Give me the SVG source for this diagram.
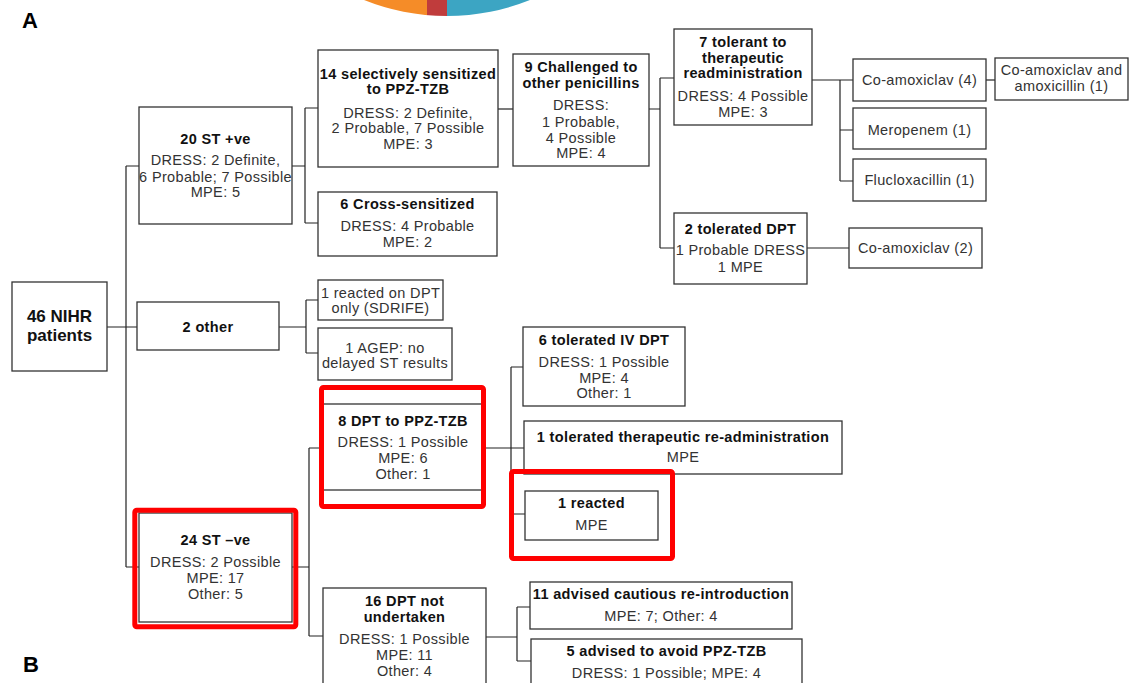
<svg xmlns="http://www.w3.org/2000/svg" width="1130" height="683" viewBox="0 0 1130 683">
<style>
.box{fill:#fff;stroke:#333;stroke-width:1.3}
.hl{fill:none;stroke:#f00;stroke-width:5}
.t{font-family:"Liberation Sans",Arial,sans-serif;font-size:14.5px;letter-spacing:0.35px;fill:#333;text-anchor:middle}
.b{font-weight:bold;fill:#111}
.lbl{font-family:"Liberation Sans",Arial,sans-serif;font-size:22px;font-weight:bold;fill:#000}
.c{fill:none;stroke:#222;stroke-width:1.2}
</style>
<defs>
<clipPath id="pie"><circle cx="447" cy="-207" r="223"/></clipPath>
</defs>
<rect width="1130" height="683" fill="#fff"/>
<g id="pie-fragment" clip-path="url(#pie)">
<rect x="300" y="-10" width="127" height="40" fill="#f58c28"/>
<rect x="427" y="-10" width="20" height="40" fill="#c03c3c"/>
<rect x="447" y="-10" width="150" height="40" fill="#3ca5c3"/>
</g>
<text class="lbl" x="22" y="28">A</text>
<text class="lbl" x="23" y="672">B</text>
<g id="connectors" class="c">
<path class="c" d="M107,327H126M126,166V567M126,166H139M126,327H137M126,567H139"/>
<path class="c" d="M292,166H305M305,108V223M305,108H318M305,223H318"/>
<path class="c" d="M498,109H513"/>
<path class="c" d="M649,109H660M660,78V248M660,78H674M660,248H674"/>
<path class="c" d="M812,80H853M840,80V181M840,130H853M840,181H853"/>
<path class="c" d="M986,80H995"/>
<path class="c" d="M807,248H849"/>
<path class="c" d="M279,327H306M306,300V353M306,300H318M306,353H318"/>
<path class="c" d="M292,567H309M309,448V636M309,448H322M309,636H323"/>
<path class="c" d="M484,448H524M511,367V514M511,367H523M511,514H525"/>
<path class="c" d="M486,637H517M517,607V661M517,607H530M517,661H531"/>
</g>
<g id="n46">
<rect class="box" x="12" y="282" width="95" height="89"/>
<text class="t b" x="59.5" y="322" style="font-size:17px;letter-spacing:0">46 NIHR</text>
<text class="t b" x="59.5" y="341" style="font-size:17px;letter-spacing:0">patients</text>
</g>
<g id="n20pos">
<rect class="box" x="139" y="107" width="153" height="117"/>
<text class="t b" x="215.5" y="144">20 ST +ve</text>
<text class="t" x="215.5" y="165">DRESS: 2 Definite,</text>
<text class="t" x="215.5" y="182">6 Probable; 7 Possible</text>
<text class="t" x="215.5" y="197">MPE: 5</text>
</g>
<g id="n2other">
<rect class="box" x="137" y="302" width="142" height="48"/>
<text class="t b" x="208" y="332">2 other</text>
</g>
<g id="n24neg">
<rect class="box" x="139" y="513" width="153" height="109"/>
<text class="t b" x="215.5" y="545">24 ST –ve</text>
<text class="t" x="215.5" y="567">DRESS: 2 Possible</text>
<text class="t" x="215.5" y="583">MPE: 17</text>
<text class="t" x="215.5" y="599">Other: 5</text>
<rect class="hl" x="134.8" y="510.2" width="161" height="116.6" rx="2"/>
</g>
<g id="n14sel">
<rect class="box" x="318" y="50" width="180" height="117"/>
<text class="t b" x="408" y="79">14 selectively sensitized</text>
<text class="t b" x="408" y="94">to PPZ-TZB</text>
<text class="t" x="408" y="118">DRESS: 2 Definite,</text>
<text class="t" x="408" y="133">2 Probable, 7 Possible</text>
<text class="t" x="408" y="149">MPE: 3</text>
</g>
<g id="n6cross">
<rect class="box" x="318" y="192" width="179" height="64"/>
<text class="t b" x="407.5" y="209">6 Cross-sensitized</text>
<text class="t" x="407.5" y="231">DRESS: 4 Probable</text>
<text class="t" x="407.5" y="247">MPE: 2</text>
</g>
<g id="n9chal">
<rect class="box" x="513" y="54" width="136" height="112"/>
<text class="t b" x="581" y="72">9 Challenged to</text>
<text class="t b" x="581" y="88">other penicillins</text>
<text class="t" x="581" y="110">DRESS:</text>
<text class="t" x="581" y="127">1 Probable,</text>
<text class="t" x="581" y="143">4 Possible</text>
<text class="t" x="581" y="158">MPE: 4</text>
</g>
<g id="n7tol">
<rect class="box" x="674" y="29" width="138" height="96"/>
<text class="t b" x="743" y="47">7 tolerant to</text>
<text class="t b" x="743" y="63">therapeutic</text>
<text class="t b" x="743" y="78">readministration</text>
<text class="t" x="743" y="101">DRESS: 4 Possible</text>
<text class="t" x="743" y="117">MPE: 3</text>
</g>
<g id="n2tol">
<rect class="box" x="674" y="213" width="133" height="71"/>
<text class="t b" x="740.5" y="234">2 tolerated DPT</text>
<text class="t" x="740.5" y="255">1 Probable DRESS</text>
<text class="t" x="740.5" y="272">1 MPE</text>
</g>
<g id="nCoamox4">
<rect class="box" x="853" y="59" width="133" height="42"/>
<text class="t" x="919.5" y="85">Co-amoxiclav (4)</text>
</g>
<g id="nMero">
<rect class="box" x="853" y="108" width="133" height="41"/>
<text class="t" x="919.5" y="135">Meropenem (1)</text>
</g>
<g id="nFlu">
<rect class="box" x="853" y="159" width="133" height="42"/>
<text class="t" x="919.5" y="185">Flucloxacillin (1)</text>
</g>
<g id="nCoamoxAmox">
<rect class="box" x="995" y="58" width="133" height="42"/>
<text class="t" x="1061.5" y="75">Co-amoxiclav and</text>
<text class="t" x="1061.5" y="91">amoxicillin (1)</text>
</g>
<g id="nCoamox2">
<rect class="box" x="849" y="228" width="133" height="40"/>
<text class="t" x="915.5" y="253">Co-amoxiclav (2)</text>
</g>
<g id="nSDRIFE">
<rect class="box" x="318" y="280" width="125" height="40"/>
<text class="t" x="380.5" y="298">1 reacted on DPT</text>
<text class="t" x="380.5" y="313">only (SDRIFE)</text>
</g>
<g id="nAGEP">
<rect class="box" x="318" y="328" width="134" height="52"/>
<text class="t" x="385" y="353">1 AGEP: no</text>
<text class="t" x="385" y="368">delayed ST results</text>
</g>
<g id="n8DPT">
<rect class="box" x="322" y="404" width="162" height="86"/>
<text class="t b" x="403" y="426">8 DPT to PPZ-TZB</text>
<text class="t" x="403" y="447">DRESS: 1 Possible</text>
<text class="t" x="403" y="463">MPE: 6</text>
<text class="t" x="403" y="479">Other: 1</text>
<rect class="hl" x="321.5" y="387.5" width="162" height="119" rx="2"/>
</g>
<g id="n6tolIV">
<rect class="box" x="523" y="327" width="162" height="79"/>
<text class="t b" x="604" y="345">6 tolerated IV DPT</text>
<text class="t" x="604" y="367">DRESS: 1 Possible</text>
<text class="t" x="604" y="383">MPE: 4</text>
<text class="t" x="604" y="398">Other: 1</text>
</g>
<g id="n1tolTher">
<rect class="box" x="524" y="421" width="318" height="53"/>
<text class="t b" x="683" y="442">1 tolerated therapeutic re-administration</text>
<text class="t" x="683" y="462">MPE</text>
</g>
<g id="n1reacted">
<rect class="box" x="525" y="491" width="133" height="49"/>
<text class="t b" x="591.5" y="508">1 reacted</text>
<text class="t" x="591.5" y="530">MPE</text>
<rect class="hl" x="511.5" y="471.5" width="161" height="87" rx="2"/>
</g>
<g id="n16DPT">
<rect class="box" x="323" y="588" width="163" height="110"/>
<text class="t b" x="404.5" y="606">16 DPT not</text>
<text class="t b" x="404.5" y="622">undertaken</text>
<text class="t" x="404.5" y="644">DRESS: 1 Possible</text>
<text class="t" x="404.5" y="660">MPE: 11</text>
<text class="t" x="404.5" y="676">Other: 4</text>
</g>
<g id="n11adv">
<rect class="box" x="530" y="582" width="262" height="47"/>
<text class="t b" x="661" y="599">11 advised cautious re-introduction</text>
<text class="t" x="661" y="621">MPE: 7; Other: 4</text>
</g>
<g id="n5adv">
<rect class="box" x="531" y="639" width="271" height="60"/>
<text class="t b" x="666.5" y="656">5 advised to avoid PPZ-TZB</text>
<text class="t" x="666.5" y="678">DRESS: 1 Possible; MPE: 4</text>
</g>
</svg>
